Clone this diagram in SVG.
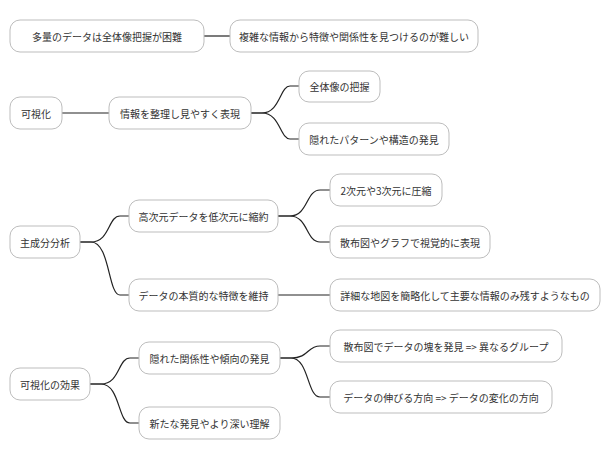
<svg xmlns="http://www.w3.org/2000/svg" width="610" height="459" viewBox="0 0 610 459">
<style>
.n rect{fill:#fff;stroke:#bdbdbd;stroke-width:1}
.n text{font-family:"Noto Sans CJK JP","Noto Sans",sans-serif;font-size:10px;fill:#333;text-anchor:middle;dominant-baseline:central}
#c path{fill:none;stroke:#222;stroke-width:1.2}
</style>
<rect width="610" height="459" fill="#fff"/>
<g id="c">
<path d="M204,36 H230"/>
<path d="M62,113 H109"/>
<path d="M251,113 H262 C280,113 280,86 290,86 H299"/>
<path d="M251,113 H262 C280,113 280,139 290,139 H299"/>
<path d="M80,242 H91 C110,242 108,216 120,216 H129"/>
<path d="M80,242 H91 C110,242 108,295 120,295 H129"/>
<path d="M278,216 H290 C308,216 306,190 320,190 H330"/>
<path d="M278,216 H290 C308,216 306,242 320,242 H330"/>
<path d="M278,295 H330"/>
<path d="M90,384 H101 C120,384 118,358 130,358 H139"/>
<path d="M90,384 H101 C120,384 118,423 130,423 H139"/>
<path d="M280,358 H291 C309,358 307,346 320,346 H330"/>
<path d="M280,358 H291 C309,358 307,397 320,397 H330"/>
</g>
<g id="n1" class="n"><rect x="10" y="20" width="194" height="32" rx="10"/><text x="107" y="36">多量のデータは全体像把握が困難</text></g>
<g id="n2" class="n"><rect x="230" y="20" width="248" height="32" rx="10"/><text x="354" y="36">複雑な情報から特徴や関係性を見つけるのが難しい</text></g>
<g id="n3" class="n"><rect x="10" y="97" width="52" height="32" rx="10"/><text x="36" y="113">可視化</text></g>
<g id="n4" class="n"><rect x="109" y="97" width="142" height="32" rx="10"/><text x="180" y="113">情報を整理し見やすく表現</text></g>
<g id="n5" class="n"><rect x="299" y="71" width="81" height="31" rx="10"/><text x="339.5" y="86.5">全体像の把握</text></g>
<g id="n6" class="n"><rect x="299" y="123" width="150" height="32" rx="10"/><text x="374" y="139">隠れたパターンや構造の発見</text></g>
<g id="n7" class="n"><rect x="10" y="226" width="70" height="32" rx="10"/><text x="45" y="242">主成分分析</text></g>
<g id="n8" class="n"><rect x="129" y="200" width="149" height="32" rx="10"/><text x="203.5" y="216">高次元データを低次元に縮約</text></g>
<g id="n9" class="n"><rect x="129" y="279" width="149" height="32" rx="10"/><text x="203.5" y="295">データの本質的な特徴を維持</text></g>
<g id="n10" class="n"><rect x="330" y="174" width="112" height="32" rx="10"/><text x="386" y="190">2次元や3次元に圧縮</text></g>
<g id="n11" class="n"><rect x="330" y="226" width="160" height="32" rx="10"/><text x="410" y="242">散布図やグラフで視覚的に表現</text></g>
<g id="n12" class="n"><rect x="330" y="279" width="270" height="32" rx="10"/><text x="465" y="295">詳細な地図を簡略化して主要な情報のみ残すようなもの</text></g>
<g id="n13" class="n"><rect x="10" y="368" width="80" height="32" rx="10"/><text x="50" y="384">可視化の効果</text></g>
<g id="n14" class="n"><rect x="139" y="342" width="141" height="32" rx="10"/><text x="209.5" y="358">隠れた関係性や傾向の発見</text></g>
<g id="n15" class="n"><rect x="139" y="407" width="141" height="32" rx="10"/><text x="209.5" y="423">新たな発見やより深い理解</text></g>
<g id="n16" class="n"><rect x="330" y="330" width="232" height="32" rx="10"/><text x="446" y="346">散布図でデータの塊を発見 =&gt; 異なるグループ</text></g>
<g id="n17" class="n"><rect x="330" y="381" width="222" height="32" rx="10"/><text x="441" y="397">データの伸びる方向 =&gt; データの変化の方向</text></g>
</svg>
